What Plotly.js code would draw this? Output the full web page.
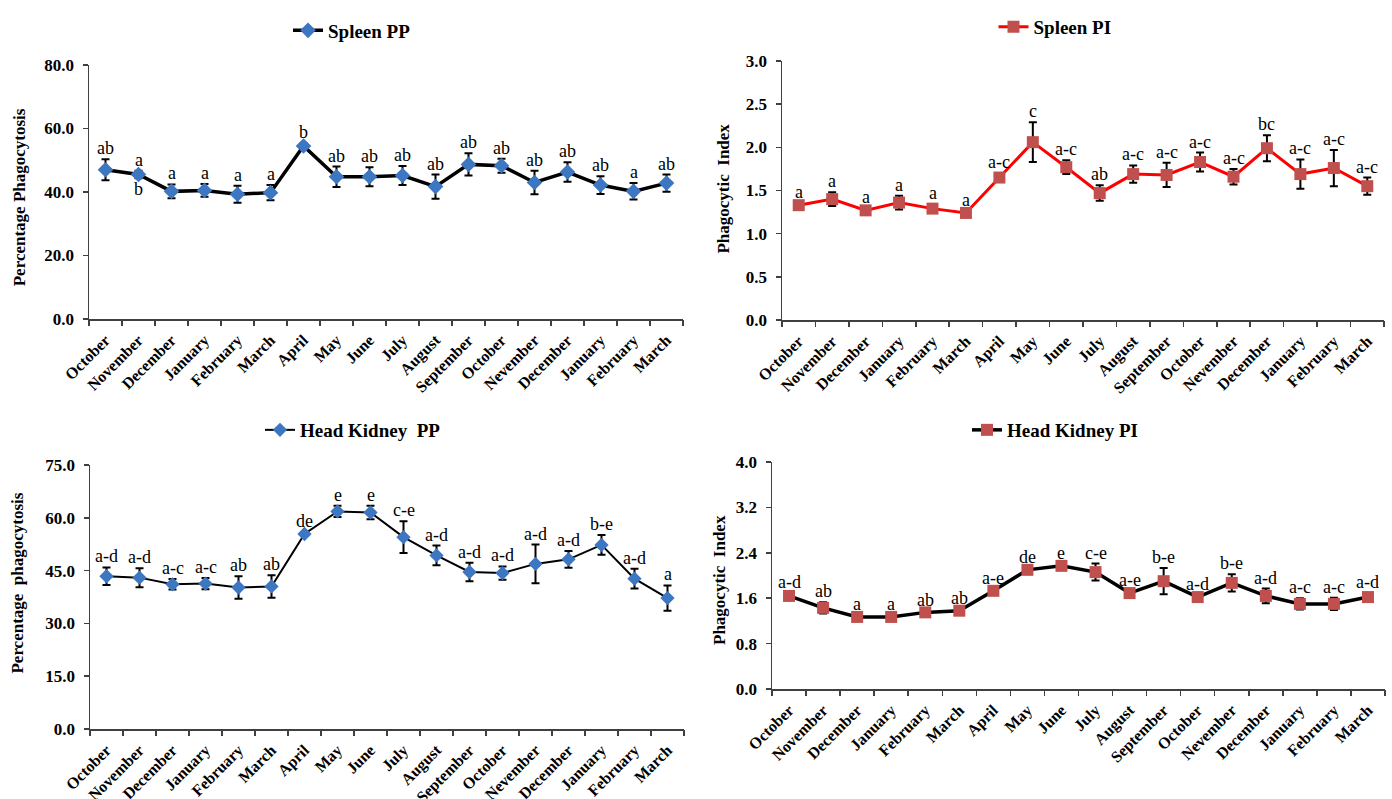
<!DOCTYPE html>
<html>
<head>
<meta charset="utf-8">
<script src="https://cdn.plot.ly/plotly-3.0.1.min.js"></script>
<style>
  html, body { margin: 0; padding: 0; background: #fff; }
  #wrap { position: relative; width: 1392px; height: 799px; overflow: hidden; }
  .panel { position: absolute; }
</style>
</head>
<body>
<div id="wrap">
  <div id="p1" class="panel" style="left:0px;top:0px;width:696px;height:400px;"></div>
  <div id="p2" class="panel" style="left:696px;top:0px;width:696px;height:400px;"></div>
  <div id="p3" class="panel" style="left:0px;top:400px;width:696px;height:399px;"></div>
  <div id="p4" class="panel" style="left:696px;top:400px;width:696px;height:399px;"></div>
</div>
<script>
// ---------------- DATA ----------------
const months = ["October","November","December","January","February","March","April","May","June","July","August","September","October","Nevember","December","January","February","March"];

const spleenPP      = [47.0, 45.5, 40.2, 40.5, 39.3, 39.8, 54.5, 44.8, 44.8, 45.2, 41.7, 48.7, 48.3, 43.0, 46.3, 42.2, 40.2, 42.8];
const spleenPPErr   = [3.3, 1.2, 2.2, 2.0, 2.7, 2.4, 0.8, 3.2, 3.0, 3.0, 3.8, 3.5, 2.2, 3.7, 3.1, 2.8, 2.6, 2.7];
const spleenPPLabels= ["ab","a","a","a","a","a","b","ab","ab","ab","ab","ab","ab","ab","ab","ab","a","ab"];

const spleenPI      = [1.33, 1.40, 1.27, 1.36, 1.29, 1.24, 1.65, 2.06, 1.77, 1.47, 1.69, 1.68, 1.83, 1.66, 1.99, 1.69, 1.76, 1.55];
const spleenPIErr   = [0.03, 0.08, 0.03, 0.08, 0.05, 0.02, 0.05, 0.23, 0.08, 0.09, 0.10, 0.14, 0.11, 0.09, 0.15, 0.17, 0.21, 0.10];
const spleenPILabels= ["a","a","a","a","a","a","a-c","c","a-c","ab","a-c","a-c","a-c","a-c","bc","a-c","a-c","a-c"];

const hkPP          = [43.4, 43.0, 41.1, 41.3, 40.2, 40.5, 55.4, 61.8, 61.5, 54.5, 49.3, 44.6, 44.3, 46.9, 48.2, 52.3, 42.7, 37.2];
const hkPPErr       = [2.5, 2.7, 1.5, 1.6, 3.2, 3.2, 0.5, 1.6, 1.9, 4.5, 2.8, 2.6, 1.9, 5.5, 2.4, 2.8, 2.8, 3.6];
const hkPPLabels    = ["a-d","a-d","a-c","a-c","ab","ab","de","e","e","c-e","a-d","a-d","a-d","a-d","a-d","b-e","a-d","a"];

const hkPI          = [1.64, 1.43, 1.27, 1.27, 1.35, 1.38, 1.73, 2.10, 2.17, 2.06, 1.69, 1.90, 1.62, 1.87, 1.64, 1.50, 1.50, 1.62];
const hkPIErr       = [0.06, 0.10, 0.03, 0.03, 0.03, 0.03, 0.03, 0.03, 0.03, 0.15, 0.04, 0.23, 0.04, 0.15, 0.13, 0.10, 0.11, 0.07];
const hkPILabels    = ["a-d","ab","a","a","ab","ab","a-e","de","e","c-e","a-e","b-e","a-d","b-e","a-d","a-c","a-c","a-d"];

// ---------------- DRAWING ----------------
const SERIF = "Liberation Serif, Times New Roman, serif";
const idx = months.map((_, i) => i);
const boundaries = months.map((_, i) => i - 0.5).concat([months.length - 0.5]);

function makePanel(divId, o) {
  const trace = {
    x: idx, y: o.values, type: 'scatter', mode: 'lines+markers', name: o.name,
    line: { color: o.lineColor, width: o.lineWidth },
    marker: { symbol: o.symbol, size: o.markerSize, color: o.markerColor, line: { width: 0 } },
    error_y: { type: 'data', array: o.err, visible: true, color: '#000', thickness: 2, width: 4 },
    showlegend: true
  };
  const dummy = { x: [0], y: [0], xaxis: 'x2', yaxis: 'y', mode: 'markers', marker: { opacity: 0 },
                  showlegend: false, hoverinfo: 'skip' };

  const annotations = o.labels.map((t, i) => ({
    x: i, y: o.values[i] + o.err[i], xref: 'x', yref: 'y', text: t, showarrow: false,
    yanchor: 'bottom', yshift: -1,
    font: { family: SERIF, size: 18, color: '#000' }
  }));
  if (o.extra) o.extra.forEach(e => annotations.push(Object.assign({
    xref: 'x', yref: 'y', showarrow: false, font: { family: SERIF, size: 18, color: '#000' }
  }, e)));
  annotations.push({
    xref: 'paper', yref: 'paper', x: o.ytx, y: o.yty, text: o.ytitle, textangle: -90,
    showarrow: false, xanchor: 'center', yanchor: 'middle',
    font: { family: SERIF, size: 17, color: '#000', weight: 'bold' }
  });

  const layout = {
    width: o.w, height: o.h,
    margin: o.margin,
    paper_bgcolor: '#fff', plot_bgcolor: '#fff',
    showlegend: true,
    legend: {
      orientation: 'h', x: o.legx, y: o.legy, xanchor: 'center', yanchor: 'middle',
      font: { family: SERIF, size: 19, color: '#000', weight: 'bold' },
      bgcolor: 'rgba(0,0,0,0)', borderwidth: 0
    },
    xaxis: {
      range: [-0.5, months.length - 0.5], tickmode: 'array', tickvals: idx, ticktext: months,
      tickangle: -45, ticks: '', showgrid: false, zeroline: false,
      showline: true, linecolor: '#404040', linewidth: 1.5, ticklabelstandoff: 4,
      tickfont: { family: SERIF, size: 16, color: '#000', weight: 'bold' }, fixedrange: true
    },
    xaxis2: {
      overlaying: 'x', anchor: 'y', side: 'bottom', range: [-0.5, months.length - 0.5],
      tickmode: 'array', tickvals: boundaries, showticklabels: false,
      ticks: 'outside', ticklen: 6, tickwidth: 1.5, tickcolor: '#404040',
      showgrid: false, zeroline: false, showline: false
    },
    yaxis: {
      range: [0, o.ymax], dtick: o.dtick, tick0: 0, tickformat: '.1f',
      ticks: 'outside', ticklen: 5, tickwidth: 1.5, tickcolor: '#404040', ticklabelstandoff: 5,
      showline: true, linecolor: '#404040', linewidth: 1.5,
      showgrid: false, zeroline: false,
      tickfont: { family: SERIF, size: 17, color: '#000', weight: 'bold' }, fixedrange: true
    },
    annotations: annotations
  };
  Plotly.newPlot(divId, [dummy, trace], layout, { staticPlot: true, displayModeBar: false });
}

function pcx(absX, left, l, w) { return (absX - left - l) / w; }

// Panel 1: Spleen PP
(function () {
  const m = { l: 89, r: 13, t: 54, b: 81, pad: 0 };
  const pw = 696 - m.l - m.r, ph = 400 - m.t - m.b;
  makePanel('p1', {
    name: 'Spleen PP', values: spleenPP, err: spleenPPErr, labels: spleenPPLabels,
    lineColor: '#000000', lineWidth: 3.5, symbol: 'diamond', markerSize: 12, markerColor: '#3d77c2',
    ymax: 80, dtick: 20, w: 696, h: 400, margin: m,
    legx: pcx(352, 0, m.l, pw), legy: (400 - m.b - 18) / ph,
    ytitle: 'Percentage Phagocytosis', ytx: pcx(19, 0, m.l, pw), yty: (400 - m.b - 192) / ph,
    extra: [{ x: 1, y: spleenPP[1], text: 'b', yanchor: 'top', yshift: -2 }]
  });
})();

// Panel 2: Spleen PI
(function () {
  const m = { l: 86, r: 8, t: 54, b: 80, pad: 0 };
  const pw = 696 - m.l - m.r, ph = 400 - m.t - m.b;
  makePanel('p2', {
    name: 'Spleen PI', values: spleenPI, err: spleenPIErr, labels: spleenPILabels,
    lineColor: '#ff0000', lineWidth: 3, symbol: 'square', markerSize: 12, markerColor: '#c0504d',
    ymax: 3, dtick: 0.5, w: 696, h: 400, margin: m,
    legx: pcx(1055, 696, m.l, pw), legy: (400 - m.b - 19) / ph,
    ytitle: 'Phagocytic  Index', ytx: pcx(724, 696, m.l, pw), yty: (400 - m.b - 185) / ph
  });
})();

// Panel 3: Head Kidney PP
(function () {
  const m = { l: 90, r: 12, t: 64, b: 70, pad: 0 };
  const pw = 696 - m.l - m.r, ph = 399 - m.t - m.b;
  makePanel('p3', {
    name: 'Head Kidney  PP', values: hkPP, err: hkPPErr, labels: hkPPLabels,
    lineColor: '#000000', lineWidth: 2, symbol: 'diamond', markerSize: 11, markerColor: '#3d77c2',
    ymax: 75, dtick: 15, w: 696, h: 399, margin: m,
    legx: pcx(353, 0, m.l, pw), legy: (399 - m.b - 30) / ph,
    ytitle: 'Percentage  phagocytosis', ytx: pcx(18, 0, m.l, pw), yty: (399 - m.b - 183) / ph
  });
})();

// Panel 4: Head Kidney PI
(function () {
  const m = { l: 76, r: 7, t: 62, b: 110, pad: 0 };
  const pw = 696 - m.l - m.r, ph = 399 - m.t - m.b;
  makePanel('p4', {
    name: 'Head Kidney PI', values: hkPI, err: hkPIErr, labels: hkPILabels,
    lineColor: '#000000', lineWidth: 3.5, symbol: 'square', markerSize: 12, markerColor: '#c0504d',
    ymax: 4, dtick: 0.8, w: 696, h: 399, margin: m,
    legx: pcx(1055, 696, m.l, pw), legy: (399 - m.b - 30) / ph,
    ytitle: 'Phagocytic  Index', ytx: pcx(719, 696, m.l, pw), yty: (399 - m.b - 180) / ph
  });
})();
</script>
</body>
</html>
